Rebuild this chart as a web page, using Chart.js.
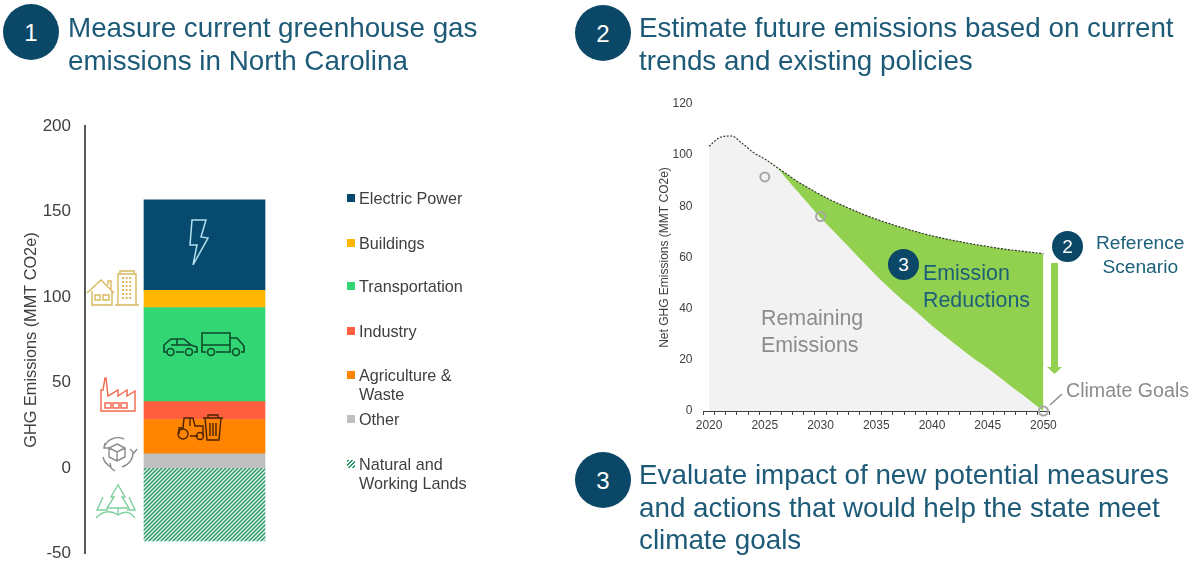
<!DOCTYPE html>
<html lang="en">
<head>
    <meta charset="UTF-8">
    <title>North Carolina GHG Emissions</title>
    <script src="https://cdn.jsdelivr.net/npm/chart.js"></script>
    <style>
        html, body {
            margin: 0;
            padding: 0;
            background: #fff;
        }

        #page {
            position: relative;
            width: 1194px;
            height: 563px;
            overflow: hidden;
            font-family: "Liberation Sans", Arial, sans-serif;
        }

        #page canvas, #icons {
            position: absolute;
        }

        .badge {
            position: absolute;
            border-radius: 50%;
            background: #0b4766;
            color: #fff;
            text-align: center;
        }

        .badge.big {
            width: 56px;
            height: 56px;
            line-height: 58px;
            font-size: 24px;
        }

        .badge.small {
            width: 31px;
            height: 31px;
            line-height: 31px;
            font-size: 19px;
        }

        .heading {
            position: absolute;
            color: #1d5a78;
            font-size: 27.8px;
            line-height: 32.7px;
            white-space: nowrap;
        }

        .note {
            position: absolute;
            font-size: 21.4px;
            line-height: 27px;
            white-space: nowrap;
        }

        .legend-row {
            position: absolute;
            left: 359px;
            width: 122px;
            color: #404040;
            font-size: 16.2px;
            line-height: 18.5px;
        }

        .legend-row i {
            position: absolute;
            left: -12px;
            top: 5px;
            width: 8px;
            height: 8px;
        }
    </style>
</head>
<body>
    <div id="page">
        <canvas id="stackChart" width="324" height="460" style="left:0;top:110px"></canvas>
        <canvas id="pathChart" width="445" height="350" style="left:620px;top:90px"></canvas>

        <!-- Icons and arrow -->
        <svg id="icons" width="1194" height="563" style="left:0;top:0" fill="none">
            <g stroke="#d9b95c" stroke-width="1.4">
                <path d="M87 293 L101 280 L114 293 M92 291 V305 H112 V291 M108 285 V281 H111 V289"/>
                <path d="M95 295 H100 V300 H95 Z M103 295 H109 V300 H103 Z"/>
                <path d="M118 305 V274 H136 V305 M120 274 V271 H134 V274 M115 305 H139"/>
                <path d="M122 278 H132 M122 282 H132 M122 286 H132 M122 290 H132 M122 294 H132 M122 298 H132" stroke-dasharray="2 1.6" stroke-width="2"/>
            </g>
            <g stroke="#f2674a" stroke-width="1.4">
                <path d="M101 411 V390 H103 L105 378 H106 L108 396 L118 390 V396 L127 390 V396 L135 391 V411 Z"/>
                <path d="M105 403 H111 V408 H105 Z M113 403 H119 V408 H113 Z M121 403 H127 V408 H121 Z"/>
            </g>
            <g stroke="#8c8c8c" stroke-width="1.4">
                <path d="M104 447 A15 15 0 0 1 124 439 M133 452 A15 15 0 0 1 122 467 M111 467 A15 15 0 0 1 103 457"/>
                <path d="M105 443 L104 448 L109 448 M130 449 L134 453 L137 449 M110 463 L111 468 L115 471"/>
                <path d="M117 444 L125 448 V457 L117 461 L109 457 V448 Z M109 448 L117 452 L125 448 M117 452 V461"/>
            </g>
            <g stroke="#7fcf9f" stroke-width="1.4">
                <path d="M118 485 L111 497 H114 L107 508 H129 L122 497 H125 Z M118 508 V514"/>
                <path d="M103 497 L97 510 H108 M129 497 L135 510 H127"/>
                <path d="M96 518 C104 510 112 511 118 515 C124 511 130 511 135 518"/>
            </g>
            <path d="M192 220 H206 L201 237 L208 238 L193 265 L197 245 L190 245 Z" stroke="#b4e0ee" stroke-width="1.5"/>
            <g stroke="#0f4a2a" stroke-width="1.6">
                <path d="M167 352 H164 V345 L171 339 H184 L191 345 L197 347 V352 H194 M176 352 H184 M171 345 H191 M177 339 V345"/>
                <circle cx="170.5" cy="352" r="3.5"/>
                <circle cx="189" cy="352" r="3.5"/>
                <path d="M206 352 H202 V333 H230 V352 H216 M202 345 H230 M230 338 H237 L244 346 V352 H241 M230 352 H231"/>
                <circle cx="211" cy="352" r="3.5"/>
                <circle cx="236" cy="352" r="3.5"/>
            </g>
            <g stroke="#4a2200" stroke-width="1.4">
                <path d="M179 434 V428 H183 L184 418 H193 L195 426 H203 V436 M190 436 H198 M190 418 V426"/>
                <circle cx="183" cy="434" r="5"/>
                <circle cx="200" cy="436" r="3.5"/>
                <path d="M203 418 H223 M208 418 V415 H218 V418 M205 418 L207 440 H219 L221 418 M210 423 V436 M213 423 V436 M216 423 V436"/>
            </g>
            <path d="M1051 263 H1058 V367 H1062 L1054.5 374 L1047 367 H1051 Z" fill="#92d050"/>
            <path d="M1050 405 L1062 394" stroke="#8c8c8c" stroke-width="1.5"/>
        </svg>

        <div class="badge big" style="left:3px;top:4px">1</div>
        <div class="heading" style="left:68px;top:12px">Measure current greenhouse gas<br>emissions in North Carolina</div>
        <div class="badge big" style="left:575px;top:5px">2</div>
        <div class="heading" style="left:639px;top:12px">Estimate future emissions based on current<br>trends and existing policies</div>
        <div class="badge big" style="left:575px;top:452px">3</div>
        <div class="heading" style="left:639px;top:459px">Evaluate impact of new potential measures<br>and actions that would help the state meet<br>climate goals</div>

        <div class="note" style="left:761px;top:305px;color:#8c8c8c">Remaining<br>Emissions</div>
        <div class="badge small" style="left:888px;top:249px">3</div>
        <div class="note" style="left:923px;top:260px;color:#1d5f78">Emission<br>Reductions</div>
        <div class="badge small" style="left:1052px;top:231px">2</div>
        <div class="note" style="left:1096px;top:231px;color:#1d5f78;font-size:19.2px;line-height:24px;text-align:center">Reference<br>Scenario</div>
        <div class="note" style="left:1066px;top:377px;color:#8c8c8c;font-size:19.6px">Climate Goals</div>

        <div id="legend"></div>
    </div>

    <script>
        // Left chart: stacked sectors, MMT CO2e (legend order, top of the stack first)
        const sectorNames = ['Electric Power', 'Buildings', 'Transportation', 'Industry', 'Agriculture & Waste', 'Other', 'Natural and Working Lands'];
        const sectorValues = [53, 10, 55, 10.5, 20, 8.5, -42.5];
        const sectorColors = ['#064b6f', '#ffb703', '#33d675', '#ff5f3f', '#ff8500', '#bfbfbf', null];
        const legendTops = [189, 234, 277, 322, 366, 410, 455];

        const stackTicks = [-50, 0, 50, 100, 150, 200];

        // Right chart: emission paths, 2020 to 2050
        const years = [2020, 2021, 2022, 2023, 2024, 2025, 2026, 2027, 2028, 2029, 2030,
            2031, 2032, 2033, 2034, 2035, 2036, 2037, 2038, 2039, 2040,
            2041, 2042, 2043, 2044, 2045, 2046, 2047, 2048, 2049, 2050];
        const referenceScenario = [103.5, 107, 107.5, 104.5, 101, 98.5, 95.5, 92.5, 89.5, 87, 84.5,
            82.3, 80.3, 78.4, 76.6, 75, 73.5, 72.1, 70.8, 69.6, 68.5,
            67.5, 66.6, 65.8, 65, 64.3, 63.6, 63, 62.5, 62, 61.5];
        const remainingEmissions = [103.5, 107, 107.5, 104.5, 101, 98.5, 95.5, 90.5, 85.5, 80.5, 75.5,
            71, 66.5, 62, 57.5, 53, 48.8, 44.8, 41, 37.2, 33.3,
            29.8, 26.4, 23, 19.7, 16.7, 13.4, 10, 6.7, 3.3, 0];
        const climateGoals = [null, null, null, null, null, 91.5, null, null, null, null, 76,
            null, null, null, null, null, null, null, null, null, null,
            null, null, null, null, null, null, null, null, null, 0];

        function hatchPattern() {
            const tile = document.createElement('canvas');
            tile.width = 4;
            tile.height = 4;
            const c = tile.getContext('2d');
            c.fillStyle = '#e6f3ec';
            c.fillRect(0, 0, 4, 4);
            c.strokeStyle = '#2c9a66';
            c.lineWidth = 1.5;
            c.beginPath();
            c.moveTo(-1, 1);
            c.lineTo(1, -1);
            c.moveTo(-1, 5);
            c.lineTo(5, -1);
            c.moveTo(3, 5);
            c.lineTo(5, 3);
            c.stroke();
            return c.createPattern(tile, 'repeat');
        }

        function buildLegend() {
            const legend = document.getElementById('legend');
            legend.innerHTML = sectorNames.map((name, i) => {
                const fill = sectorColors[i] || 'repeating-linear-gradient(135deg, #2c9a66 0 1.5px, #fff 1.5px 3px)';
                return `<div class="legend-row" style="top:${legendTops[i]}px"><i style="background:${fill}"></i>${name}</div>`;
            }).join('');
        }

        function initializeStackChart() {
            const hatch = hatchPattern();
            new Chart(document.getElementById('stackChart'), {
                type: 'bar',
                data: {
                    labels: ['North Carolina'],
                    datasets: sectorNames.map((name, i) => ({
                        label: name,
                        data: [sectorValues[i]],
                        backgroundColor: sectorColors[i] || hatch,
                        barThickness: 121,
                        order: sectorNames.length - i
                    })).reverse()
                },
                options: {
                    responsive: false,
                    animation: false,
                    layout: { padding: { left: 22, top: 11, bottom: 8 } },
                    plugins: { legend: { display: false }, tooltip: { enabled: false } },
                    scales: {
                        x: { stacked: true, display: false },
                        y: {
                            stacked: true,
                            min: -50,
                            max: 200,
                            afterBuildTicks: scale => { scale.ticks = stackTicks.map(value => ({ value })); },
                            afterFit: scale => { scale.width = 63; },
                            grid: { display: false },
                            border: { display: true, color: '#595959', width: 2 },
                            ticks: { color: '#404040', font: { family: 'Liberation Sans', size: 17 }, padding: 6 },
                            title: {
                                display: true,
                                text: 'GHG Emissions (MMT CO2e)',
                                color: '#404040',
                                font: { family: 'Liberation Sans', size: 16.3 },
                                padding: 0
                            }
                        }
                    }
                }
            });
        }

        function initializePathChart() {
            new Chart(document.getElementById('pathChart'), {
                type: 'line',
                data: {
                    labels: years,
                    datasets: [
                        {
                            label: 'Climate Goals',
                            data: climateGoals,
                            showLine: false,
                            pointRadius: 4.5,
                            pointBorderWidth: 2,
                            pointBorderColor: '#a6a6a6',
                            pointBackgroundColor: 'rgba(0,0,0,0)',
                            clip: false,
                            order: 0
                        },
                        {
                            label: 'Reference Scenario',
                            data: referenceScenario,
                            borderColor: '#333',
                            borderWidth: 1.2,
                            borderDash: [2, 1.5],
                            pointRadius: 0,
                            backgroundColor: '#92d050',
                            fill: '+1',
                            cubicInterpolationMode: 'monotone',
                            order: 1
                        },
                        {
                            label: 'Remaining Emissions',
                            data: remainingEmissions,
                            borderWidth: 0,
                            pointRadius: 0,
                            backgroundColor: '#f2f2f2',
                            fill: 'origin',
                            cubicInterpolationMode: 'monotone',
                            order: 2
                        }
                    ]
                },
                options: {
                    responsive: false,
                    animation: false,
                    layout: { padding: { left: 37, top: 14, right: 16 } },
                    plugins: { legend: { display: false }, tooltip: { enabled: false } },
                    scales: {
                        x: {
                            offset: true,
                            afterFit: scale => { scale.height = 29; },
                            grid: { offset: true, drawOnChartArea: false, tickLength: 4, color: '#404040' },
                            border: { color: '#404040', width: 1 },
                            ticks: {
                                autoSkip: false,
                                maxRotation: 0,
                                color: '#404040',
                                font: { family: 'Liberation Sans', size: 12 },
                                padding: 3,
                                callback: function (value, index) {
                                    return years[index] % 5 === 0 ? String(years[index]) : '';
                                }
                            }
                        },
                        y: {
                            min: 0,
                            max: 120,
                            afterFit: scale => { scale.width = 46.5; },
                            grid: { display: false },
                            border: { display: false },
                            ticks: { stepSize: 20, color: '#404040', font: { family: 'Liberation Sans', size: 12 }, padding: 3 },
                            title: {
                                display: true,
                                text: 'Net GHG Emissions (MMT CO2e)',
                                color: '#404040',
                                font: { family: 'Liberation Sans', size: 12 },
                                padding: 0
                            }
                        }
                    }
                }
            });
        }

        buildLegend();
        initializeStackChart();
        initializePathChart();
    </script>
</body>
</html>
